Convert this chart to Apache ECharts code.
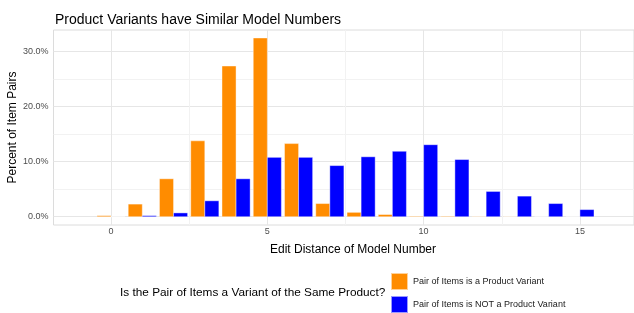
<!DOCTYPE html>
<html>
<head>
<meta charset="utf-8">
<script src="https://cdn.jsdelivr.net/npm/echarts@6/dist/echarts.min.js"></script>
<style>
  html, body { margin: 0; padding: 0; background: #fff; }
  #chart { width: 634px; height: 313px; }
</style>
</head>
<body>
<div id="chart"></div>
<script>
// edit distance 0..15
var distances = [0, 1, 2, 3, 4, 5, 6, 7, 8, 9, 10, 11, 12, 13, 14, 15];
// percent of item pairs
var variantPct = [0.2, 2.3, 6.9, 13.8, 27.4, 32.5, 13.3, 2.4, 0.8, 0.4, 0.1, 0.1, 0.05, 0.03, 0, 0];
var notVariantPct = [0, 0.2, 0.7, 2.9, 6.9, 10.8, 10.8, 9.3, 10.9, 11.9, 13.1, 10.4, 4.6, 3.75, 2.4, 1.3];
var seriesNames = ['Pair of Items is a Product Variant', 'Pair of Items is NOT a Product Variant'];
var xTicks = [0, 5, 10, 15];
var xMinor = [2.5, 7.5, 12.5];
var yTicks = [0, 10, 20, 30];
var yMinor = [5, 15, 25];

var font = '"Liberation Sans", Arial, sans-serif';
var xMin = -1.84, xMax = 16.73, yMin = -1.5, yMax = 33.95;

function barRender(side) { // side -1 = left half, +1 = right half
    return function (params, api) {
        var x = api.value(0), y = api.value(1);
        var a = side < 0 ? x - 0.45 : x;
        var b = side < 0 ? x : x + 0.45;
        var p0 = api.coord([a, y]);
        var p1 = api.coord([b, 0]);
        return {
            type: 'rect',
            shape: { x: p0[0], y: p0[1], width: p1[0] - p0[0], height: p1[1] - p0[1] },
            style: api.style()
        };
    };
}

function pairs(vals) {
    return distances.map(function (d, i) { return [d, vals[i]]; });
}

function legendAt(name, top) {
    return {
        left: 390, top: top, padding: 0, itemWidth: 17, itemHeight: 17,
        icon: 'rect',
        textStyle: { fontFamily: font, fontSize: 9, color: '#1a1a1a' },
        data: [name]
    };
}

var chart = echarts.init(document.getElementById('chart'));
var option = {
    animation: false,
    title: [
        { text: 'Product Variants have Similar Model Numbers', left: 50, top: 8,
          textStyle: { fontFamily: font, fontSize: 14, fontWeight: 'normal', color: '#000' } },
        { text: 'Edit Distance of Model Number', left: 348, top: 239, textAlign: 'center',
          textStyle: { fontFamily: font, fontSize: 12, fontWeight: 'normal', color: '#000' } },
        { text: 'Is the Pair of Items a Variant of the Same Product?', left: 115, top: 282,
          textStyle: { fontFamily: font, fontSize: 11.8, fontWeight: 'normal', color: '#000' } }
    ],
    legend: [legendAt(seriesNames[0], 272), legendAt(seriesNames[1], 295)],
    grid: { left: 53.5, right: 0, top: 30, bottom: 88, containLabel: false, outerBoundsMode: 'none',
            show: true, borderColor: '#dcdcdc', borderWidth: 1 },
    xAxis: [
        { type: 'value', min: xMin, max: xMax,
          axisLine: { show: false },
          axisTick: { show: false, customValues: xTicks },
          axisLabel: { customValues: xTicks, margin: 2, fontFamily: font, fontSize: 9, color: '#4d4d4d' },
          splitLine: { show: true, lineStyle: { color: '#e6e6e6', width: 1 } }
        },
        { type: 'value', min: xMin, max: xMax, position: 'bottom',
          axisLine: { show: false },
          axisTick: { show: false, customValues: xMinor },
          axisLabel: { show: false, customValues: xMinor },
          splitLine: { show: true, lineStyle: { color: '#f2f2f2', width: 1 } }
        }
    ],
    yAxis: [
        { type: 'value', min: yMin, max: yMax,
          name: 'Percent of Item Pairs', nameLocation: 'middle', nameGap: 35, nameMoveOverlap: false,
          nameTextStyle: { fontFamily: font, fontSize: 12, color: '#000' },
          axisLine: { show: false },
          axisTick: { show: false, customValues: yTicks },
          axisLabel: { customValues: yTicks, margin: 5, fontFamily: font, fontSize: 9, color: '#4d4d4d',
                       formatter: function (v) { return v.toFixed(1) + '%'; } },
          splitLine: { show: true, lineStyle: { color: '#e6e6e6', width: 1 } }
        },
        { type: 'value', min: yMin, max: yMax, position: 'left',
          axisLine: { show: false },
          axisTick: { show: false, customValues: yMinor },
          axisLabel: { show: false, customValues: yMinor },
          splitLine: { show: true, lineStyle: { color: '#f2f2f2', width: 1 } }
        }
    ],
    series: [
        { name: seriesNames[0], type: 'custom', renderItem: barRender(-1), data: pairs(variantPct),
          xAxisIndex: 0, yAxisIndex: 0,
          itemStyle: { color: '#FF8C00', borderColor: 'rgba(255,255,255,0.6)', borderWidth: 0.7 } },
        { name: seriesNames[1], type: 'custom', renderItem: barRender(1), data: pairs(notVariantPct),
          xAxisIndex: 0, yAxisIndex: 0,
          itemStyle: { color: '#0000FF', borderColor: 'rgba(255,255,255,0.6)', borderWidth: 0.7 } }
    ]
};
chart.setOption(option);
</script>
</body>
</html>
